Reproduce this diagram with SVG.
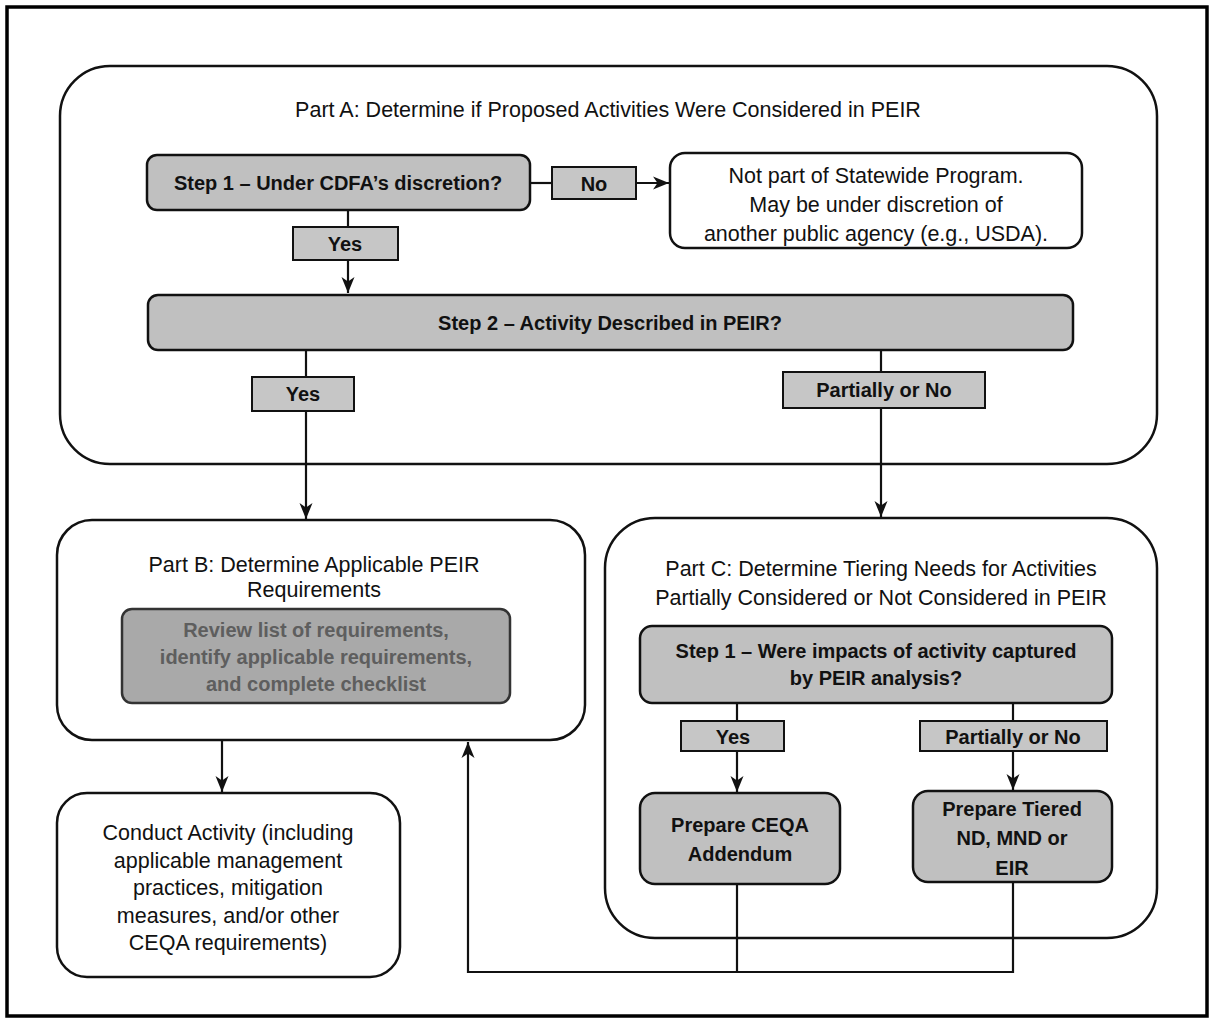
<svg xmlns="http://www.w3.org/2000/svg" width="1215" height="1019" viewBox="0 0 1215 1019">
<style>
.frame{fill:none;stroke:#000;stroke-width:3.5}
.part{fill:#fff;stroke:#111;stroke-width:2.5}
.step{fill:#c0c0c0;stroke:#111;stroke-width:2.5}
.lbl{fill:#c6c6c6;stroke:#111;stroke-width:2}
.plain{fill:#fff;stroke:#111;stroke-width:2.5}
.inner{fill:#a9a9a9;stroke:#333;stroke-width:2.5}
.t{font-family:"Liberation Sans",Arial,sans-serif;font-size:21.5px;fill:#111;text-anchor:middle}
.b{font-family:"Liberation Sans",Arial,sans-serif;font-size:20px;font-weight:bold;fill:#111;text-anchor:middle}
.g{font-family:"Liberation Sans",Arial,sans-serif;font-size:20px;font-weight:bold;fill:#5e5e5e;text-anchor:middle}
.c{fill:none;stroke:#111;stroke-width:2.2}
</style>
<defs>
<marker id="ah" markerUnits="userSpaceOnUse" markerWidth="16" markerHeight="14" viewBox="0 0 16 14" refX="16" refY="7" orient="auto">
<path d="M0,0.5 L16,7 L0,13.5 L4.5,7 z" fill="#111"/>
</marker>
</defs>
<rect width="1215" height="1019" fill="#fff"/>
<rect class="frame" x="7" y="7" width="1200" height="1009"/>

<g id="partA">
<rect class="part" x="60" y="66" width="1097" height="398" rx="50"/>
<text class="t" x="608" y="117">Part A: Determine if Proposed Activities Were Considered in PEIR</text>
</g>
<g id="partB">
<rect class="part" x="57" y="520" width="528" height="220" rx="35"/>
<text class="t" x="314" y="572">Part B: Determine Applicable PEIR</text>
<text class="t" x="314" y="597">Requirements</text>
</g>
<g id="partC">
<rect class="part" x="605" y="518" width="552" height="420" rx="50"/>
<text class="t" x="881" y="576">Part C: Determine Tiering Needs for Activities</text>
<text class="t" x="881" y="605">Partially Considered or Not Considered in PEIR</text>
</g>

<g id="connectors">
<path class="c" d="M348,210 V293" marker-end="url(#ah)"/>
<path class="c" d="M530,183 H552"/>
<path class="c" d="M636,183 H669" marker-end="url(#ah)"/>
<path class="c" d="M306,350 V519" marker-end="url(#ah)"/>
<path class="c" d="M881,350 V517" marker-end="url(#ah)"/>
<path class="c" d="M222,740 V792" marker-end="url(#ah)"/>
<path class="c" d="M737,703 V792" marker-end="url(#ah)"/>
<path class="c" d="M1013,703 V790" marker-end="url(#ah)"/>
<path class="c" d="M737,884 V972"/>
<path class="c" d="M1013,882 V972 H468 V742" marker-end="url(#ah)"/>
</g>

<g id="stepA1">
<rect class="step" x="147" y="155" width="383" height="55" rx="10"/>
<text class="b" x="338" y="190">Step 1 – Under CDFA’s discretion?</text>
</g>
<g id="labelNo">
<rect class="lbl" x="552" y="167" width="84" height="32"/>
<text class="b" x="594" y="191">No</text>
</g>
<g id="notPart">
<rect class="plain" x="670" y="153" width="412" height="95" rx="15"/>
<text class="t" x="876" y="183">Not part of Statewide Program.</text>
<text class="t" x="876" y="212">May be under discretion of</text>
<text class="t" x="876" y="241">another public agency (e.g., USDA).</text>
</g>
<g id="labelYesA1">
<rect class="lbl" x="293" y="227" width="105" height="33"/>
<text class="b" x="345" y="251">Yes</text>
</g>
<g id="stepA2">
<rect class="step" x="148" y="295" width="925" height="55" rx="10"/>
<text class="b" x="610" y="330">Step 2 – Activity Described in PEIR?</text>
</g>
<g id="labelYesA2">
<rect class="lbl" x="252" y="377" width="102" height="34"/>
<text class="b" x="303" y="401">Yes</text>
</g>
<g id="labelPartialA">
<rect class="lbl" x="783" y="372" width="202" height="36"/>
<text class="b" x="884" y="397">Partially or No</text>
</g>
<g id="reviewList">
<rect class="inner" x="122" y="609" width="388" height="94" rx="10"/>
<text class="g" x="316" y="637">Review list of requirements,</text>
<text class="g" x="316" y="664">identify applicable requirements,</text>
<text class="g" x="316" y="691">and complete checklist</text>
</g>
<g id="conduct">
<rect class="plain" x="57" y="793" width="343" height="184" rx="30"/>
<text class="t" x="228" y="840">Conduct Activity (including</text>
<text class="t" x="228" y="867.5">applicable management</text>
<text class="t" x="228" y="895">practices, mitigation</text>
<text class="t" x="228" y="922.5">measures, and/or other</text>
<text class="t" x="228" y="950">CEQA requirements)</text>
</g>
<g id="stepC1">
<rect class="step" x="640" y="626" width="472" height="77" rx="12"/>
<text class="b" x="876" y="658">Step 1 – Were impacts of activity captured</text>
<text class="b" x="876" y="685">by PEIR analysis?</text>
</g>
<g id="labelYesC">
<rect class="lbl" x="681" y="721" width="103" height="30"/>
<text class="b" x="733" y="744">Yes</text>
</g>
<g id="labelPartialC">
<rect class="lbl" x="920" y="721" width="187" height="30"/>
<text class="b" x="1013" y="744">Partially or No</text>
</g>
<g id="ceqa">
<rect class="step" x="640" y="793" width="200" height="91" rx="15"/>
<text class="b" x="740" y="832">Prepare CEQA</text>
<text class="b" x="740" y="861">Addendum</text>
</g>
<g id="tiered">
<rect class="step" x="913" y="791" width="199" height="91" rx="15"/>
<text class="b" x="1012" y="816">Prepare Tiered</text>
<text class="b" x="1012" y="845">ND, MND or</text>
<text class="b" x="1012" y="875">EIR</text>
</g>
</svg>
